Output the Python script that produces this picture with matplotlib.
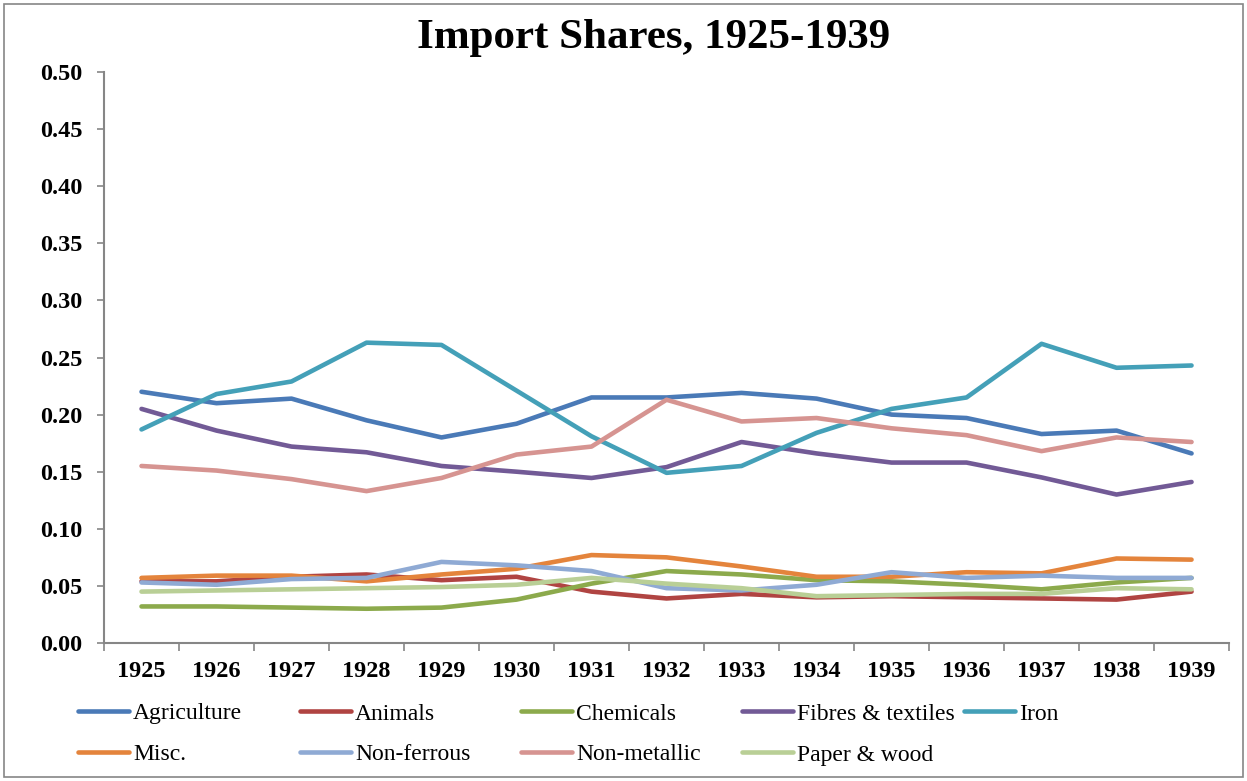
import numpy as np
import matplotlib
matplotlib.use("Agg")
import matplotlib.pyplot as plt
from matplotlib.lines import Line2D
from matplotlib.patches import Rectangle

plt.rcParams['font.family'] = ['Liberation Serif', 'DejaVu Serif']

# Years on the category axis
years = [str(y) for y in range(1925, 1940)]

# Import shares
agriculture = [0.220, 0.210, 0.214, 0.195, 0.180, 0.192, 0.215, 0.215,
               0.219, 0.214, 0.200, 0.197, 0.183, 0.186, 0.166]
animals = [0.054, 0.054, 0.058, 0.060, 0.055, 0.058, 0.045, 0.039,
           0.043, 0.040, 0.041, 0.040, 0.039, 0.038, 0.045]
chemicals = [0.032, 0.032, 0.031, 0.030, 0.031, 0.038, 0.052, 0.063,
             0.060, 0.055, 0.054, 0.051, 0.047, 0.053, 0.057]
fibres = [0.205, 0.186, 0.172, 0.167, 0.155, 0.150, 0.1445, 0.154,
          0.176, 0.166, 0.158, 0.158, 0.145, 0.130, 0.141]
iron = [0.187, 0.218, 0.229, 0.263, 0.261, 0.221, 0.181, 0.149,
        0.155, 0.184, 0.205, 0.215, 0.262, 0.241, 0.243]
misc = [0.057, 0.059, 0.059, 0.054, 0.060, 0.065, 0.077, 0.075,
        0.067, 0.058, 0.058, 0.062, 0.061, 0.074, 0.073]
non_ferrous = [0.053, 0.051, 0.056, 0.057, 0.071, 0.068, 0.063, 0.048,
               0.046, 0.051, 0.062, 0.057, 0.059, 0.057, 0.057]
non_metallic = [0.155, 0.151, 0.1435, 0.133, 0.1445, 0.165, 0.172, 0.213,
                0.194, 0.197, 0.188, 0.182, 0.168, 0.180, 0.176]
paper_wood = [0.045, 0.046, 0.047, 0.048, 0.049, 0.051, 0.057, 0.052,
              0.048, 0.041, 0.042, 0.043, 0.043, 0.048, 0.047]

names = ['Agriculture', 'Animals', 'Chemicals', 'Fibres & textiles', 'Iron',
         'Misc.', 'Non-ferrous', 'Non-metallic', 'Paper & wood']
series = [agriculture, animals, chemicals, fibres, iron,
          misc, non_ferrous, non_metallic, paper_wood]
colors = ['#4A7AB7', '#B04442', '#8CAA4C', '#725A96', '#44A0B8',
          '#E4843C', '#8FAAD4', '#D69491', '#B9CF96']

fig = plt.figure(figsize=(12.47, 7.81), dpi=100)
ax = fig.add_axes([0.0834, 0.1767, 0.9022, 0.7311])

x = np.arange(len(years))
for vals, c, n in zip(series, colors, names):
    ax.plot(x, vals, color=c, lw=3.3, label=n, solid_capstyle='round')

ax.set_xlim(-0.5, len(years) - 0.5)
ax.set_ylim(0, 0.5)
ax.set_yticks(np.arange(0, 0.51, 0.05))
ax.set_yticklabels(['{:.2f}'.format(v) for v in np.arange(0, 0.51, 0.05)],
                   fontsize=17.5, fontweight='bold')
ax.set_xticks(x)
ax.set_xticklabels(years, fontsize=17.5, fontweight='bold')
ax.set_xticks(np.arange(-0.5, len(years)), minor=True)
ax.tick_params(axis='x', which='major', length=0, pad=13)
ax.tick_params(axis='x', which='minor', length=6, color='#868686', width=1.2)
ax.tick_params(axis='y', length=5, color='#868686', width=1.2, pad=10.5)

for s in ['top', 'right']:
    ax.spines[s].set_visible(False)
for s in ['left', 'bottom']:
    ax.spines[s].set_color('#868686')
    ax.spines[s].set_linewidth(1.5)

fig.text(0.524, 0.951, 'Import Shares, 1925-1939', ha='center', va='center',
         fontsize=31, fontweight='bold')

# legend laid out in Excel style: uniform columns
col_x = [78, 300, 521, 742, 964]
row_y = [711, 752]
W, H = 1247, 781
for i, (n, c) in enumerate(zip(names, colors)):
    r, k = divmod(i, 5)
    x0 = col_x[k] / W
    y0 = 1 - row_y[r] / H
    fig.add_artist(Line2D([x0, x0 + 51 / W], [y0, y0], color=c, lw=3.3,
                          solid_capstyle='round', transform=fig.transFigure))
    fig.text(x0 + 55 / W, y0 - 3 / H, n, ha='left', va='center', fontsize=17)

fig.add_artist(Rectangle((4 / W, 4 / H), 1 - 8 / W, 1 - 8 / H, fill=False,
                         edgecolor='#868686', lw=1.2, transform=fig.transFigure))

fig.savefig('out.png', dpi=100)
